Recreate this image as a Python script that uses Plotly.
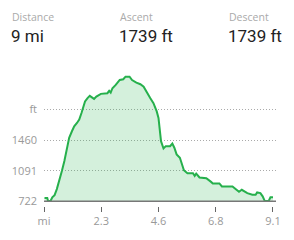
import plotly.graph_objects as go

# Elevation profile (distance in miles, elevation in feet)
distance_mi = [0.02, 0.13, 0.16, 0.26, 0.33, 0.42, 0.51, 0.61, 0.71, 0.81, 0.90, 1.00,
               1.11, 1.20, 1.31, 1.40, 1.49, 1.57, 1.63, 1.73, 1.82, 1.89, 1.99, 2.08,
               2.22, 2.26, 2.52, 2.59, 2.65, 2.72, 2.85, 3.01, 3.15, 3.24, 3.40, 3.50,
               3.67, 3.83, 3.96, 4.09, 4.22, 4.35, 4.48, 4.55, 4.61, 4.65, 4.75, 4.84,
               5.01, 5.10, 5.18, 5.27, 5.40, 5.49, 5.56, 5.70, 5.92, 5.99, 6.05, 6.18,
               6.45, 6.64, 6.71, 6.97, 7.07, 7.49, 7.60, 7.75, 7.86, 7.99, 8.08, 8.28,
               8.41, 8.47, 8.60, 8.69, 8.77, 8.93, 9.00, 9.10]
elevation_ft = [761, 761, 726, 726, 770, 797, 869, 968, 1087, 1207, 1346, 1486,
                1565, 1625, 1665, 1705, 1785, 1863, 1923, 1964, 1991, 1976, 1955, 1983,
                2003, 2015, 2023, 2051, 2031, 2083, 2123, 2182, 2191, 2222, 2222, 2182,
                2150, 2131, 2102, 2023, 1964, 1904, 1804, 1725, 1585, 1446, 1358, 1386,
                1386, 1418, 1367, 1287, 1247, 1167, 1096, 1060, 1060, 1028, 1056, 1009,
                1000, 956, 937, 937, 901, 901, 869, 837, 861, 837, 821, 801,
                801, 829, 821, 782, 728, 726, 770, 770]

y_tickvals = [722, 1091, 1460, 1829]
y_ticktext = ["722", "1091", "1460", "ft"]
x_tickvals = [0, 2.275, 4.55, 6.825, 9.1]
x_ticktext = ["mi", "2.3", "4.6", "6.8", "9.1"]

stat_labels = ["Distance", "Ascent", "Descent"]
stat_values = ["9 mi", "1739 ft", "1739 ft"]
stat_x = [-0.145, 0.32, 0.789]

base_ft = min(y_tickvals)

fig = go.Figure()
fig.add_trace(go.Scatter(x=distance_mi, y=[base_ft] * len(distance_mi), mode="lines",
                         line=dict(width=0), hoverinfo="skip", showlegend=False))
fig.add_trace(go.Scatter(x=distance_mi, y=elevation_ft, mode="lines", fill="tonexty",
                         fillcolor="rgba(40,178,80,0.2)",
                         line=dict(color="#26b04c", width=2), showlegend=False))

fig.add_shape(type="line", xref="paper", yref="y", x0=0, x1=1, y0=base_ft, y1=base_ft,
              line=dict(color="#777777", width=1.5))

font_ticks = dict(family="Open Sans", size=11, color="#999999")
fig.update_xaxes(range=[0, 9.22], tickvals=x_tickvals, ticktext=x_ticktext,
                 showgrid=False, zeroline=False, showline=False,
                 ticks="outside", ticklen=5, tickwidth=1, tickcolor="#666666",
                 tickfont=font_ticks, fixedrange=True)
fig.update_yaxes(range=[666, 2302], tickvals=y_tickvals, ticktext=y_ticktext,
                 showgrid=True, gridcolor="#aaaaaa", griddash="1px,2px", gridwidth=1,
                 zeroline=False, showline=False, ticks="", ticklabelstandoff=6,
                 tickfont=font_ticks, fixedrange=True)

for lx, lab, val in zip(stat_x, stat_labels, stat_values):
    fig.add_annotation(xref="paper", yref="paper", x=lx, y=1.387, text=lab,
                       showarrow=False, xanchor="left", yanchor="middle",
                       font=dict(family="Open Sans", size=10.5, color="#aaaaaa"))
    fig.add_annotation(xref="paper", yref="paper", x=lx - 0.004, y=1.252, text=val,
                       showarrow=False, xanchor="left", yanchor="middle",
                       font=dict(family="Roboto", size=17, color="#222222"))

fig.update_layout(width=294, height=240, margin=dict(l=41, r=18, t=70, b=33),
                  paper_bgcolor="white", plot_bgcolor="white", showlegend=False)

fig.write_html("out.html", config={"displayModeBar": False})
